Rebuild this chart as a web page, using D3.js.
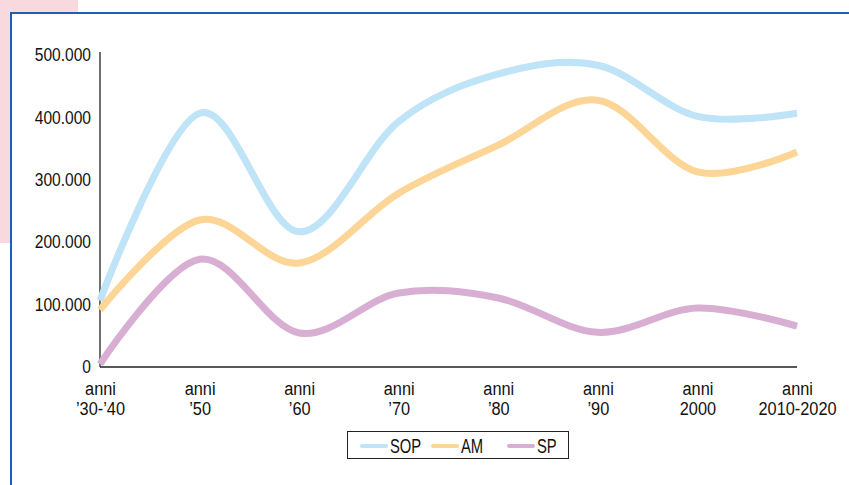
<!DOCTYPE html>
<html><head><meta charset="utf-8">
<script src="https://cdn.jsdelivr.net/npm/d3@7"></script>
<style>
html,body{margin:0;padding:0;background:#fff;}
svg{display:block;}
text{font-family:"Liberation Sans",Arial,sans-serif;fill:#111;}
</style></head>
<body>
<svg id="c" width="849" height="485"></svg>
<script>
const categories = ["anni\n’30-’40","anni\n’50","anni\n’60","anni\n’70","anni\n’80","anni\n’90","anni\n2000","anni\n2010-2020"];
const seriesNames = ["SOP","AM","SP"];
const sopValues = [105000, 405000, 215000, 392000, 468000, 482000, 400000, 405000];
const amValues  = [ 90000, 234000, 165000, 277000, 354000, 426000, 311000, 343000];
const spValues  = [  3000, 171000,  53000, 117000, 109000,  54000,  93000,  64000];
const yTicks = [0, 100000, 200000, 300000, 400000, 500000];
const colors = ["#bfe3f7", "#fdd596", "#d8aed3"];

const svg = d3.select("#c");
// decorative background
svg.append("rect").attr("x",0).attr("y",0).attr("width",78).attr("height",243).attr("fill","#f8d9dd");
svg.append("rect").attr("x",10).attr("y",12).attr("width",849).attr("height",485).attr("fill","#fff");
svg.append("path").attr("d","M11,485 V13 H849").attr("fill","none").attr("stroke","#1b5fb8").attr("stroke-width",2);

const x = d3.scalePoint().domain(categories).range([100, 797]);
const y = d3.scaleLinear().domain([0, 500000]).range([366, 54]);

const fmt = v => v === 0 ? "0" : d3.format(",")(v).replace(/,/g, ".");
const sx = 0.82;

// y axis
const gy = svg.append("g").attr("transform","translate(100,0)")
  .call(d3.axisLeft(y).tickValues(yTicks).tickSize(0).tickPadding(9).tickFormat(fmt));
gy.select(".domain").attr("stroke","#222").attr("stroke-width",1.3).attr("d","M0,52V367");
gy.selectAll("text").style("font-size","19px").attr("fill","#111")
  .attr("x", -9/sx).attr("dy","0.35em").attr("transform",`scale(${sx},1)`);

// x axis
const gx = svg.append("g").attr("transform","translate(0,367)")
  .call(d3.axisBottom(x).tickSize(0).tickPadding(0));
gx.select(".domain").attr("stroke","#222").attr("stroke-width",1.3).attr("d","M100,0H797");
gx.selectAll(".tick text").each(function(d){
  const t = d3.select(this); t.text(null).attr("y",0).attr("dy",null);
  d.split("\n").forEach((p,i)=>{
    t.append("tspan").attr("x",0).attr("y", 28 + i*20).text(p);
  });
}).style("font-size","19px").attr("fill","#111").attr("transform",`scale(0.86,1)`);

const line = d3.line().x((d,i)=>x(categories[i])).y(d=>y(d)).curve(d3.curveCardinal);
[sopValues, amValues, spValues].forEach((vals,k)=>{
  svg.append("path").datum(vals).attr("d",line).attr("fill","none")
    .attr("stroke",colors[k]).attr("stroke-width",7).attr("stroke-linecap","butt");
});

// legend
const lg = svg.append("g");
lg.append("rect").attr("x",347.5).attr("y",431.5).attr("width",221).attr("height",27)
  .attr("fill","#fff").attr("stroke","#222").attr("stroke-width",1);
const lx = [362, 433, 509];
seriesNames.forEach((n,i)=>{
  lg.append("line").attr("x1",lx[i]).attr("x2",lx[i]+24).attr("y1",446).attr("y2",446)
    .attr("stroke",colors[i]).attr("stroke-width",4).attr("stroke-linecap","round");
  lg.append("text").attr("x",(lx[i]+28)/0.74).attr("y",453).attr("transform","scale(0.74,1)")
    .style("font-size","20px").text(n);
});
</script>
</body></html>
